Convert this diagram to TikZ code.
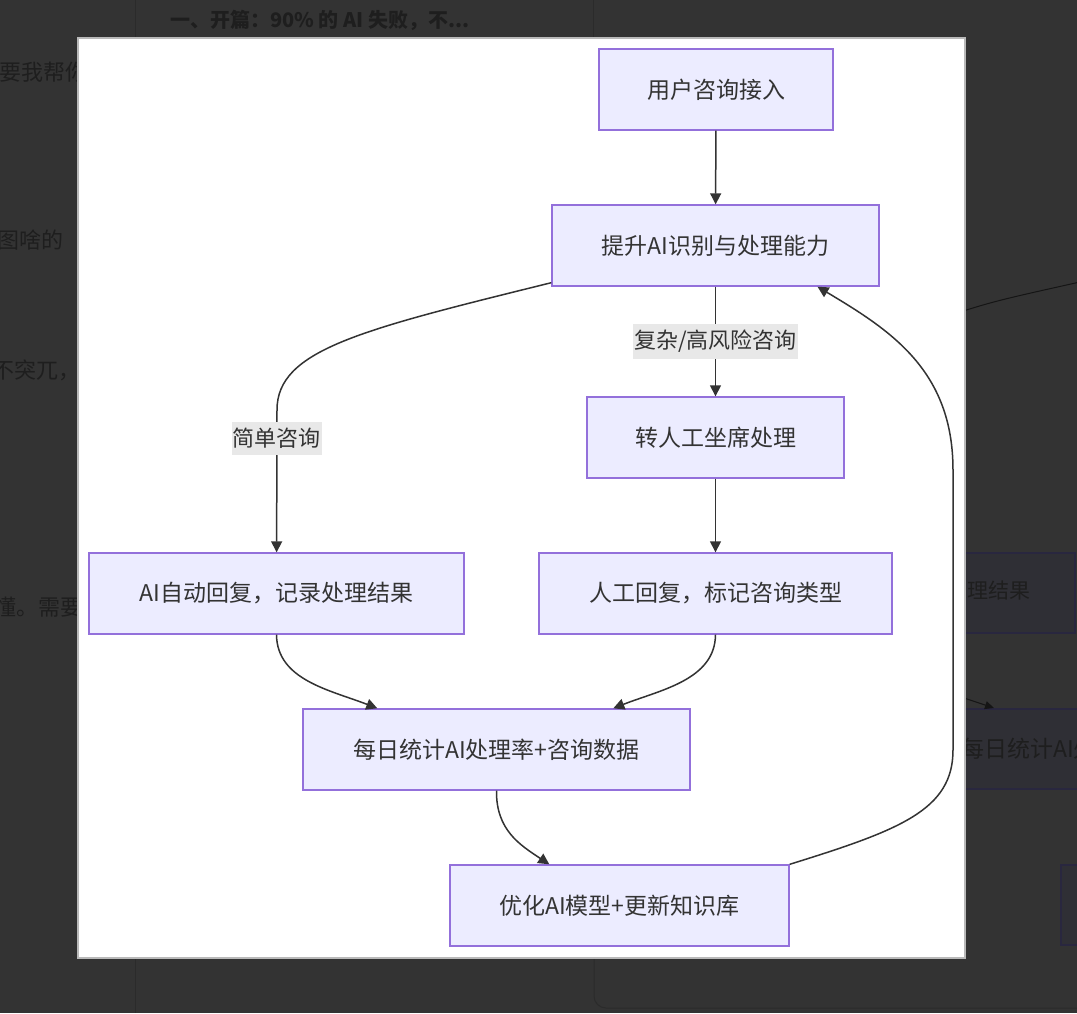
\documentclass[tikz,border=0pt]{standalone}
\usepackage{fontspec}
\setmainfont{Noto Sans CJK SC}
\usetikzlibrary{arrows.meta,calc,positioning}
\definecolor{nodefill}{HTML}{ECECFF}
\definecolor{nodeline}{HTML}{9370DB}
\definecolor{ink}{HTML}{333333}
\definecolor{lblfill}{HTML}{E8E8E8}
\definecolor{page}{HTML}{333333}
\definecolor{shade}{HTML}{1E1E1E}
\definecolor{faint}{HTML}{2B2B2B}
\definecolor{darkbox}{HTML}{2F2F35}
\definecolor{darkline}{HTML}{29273F}
\tikzset{
  flowbox/.style={draw=nodeline,fill=nodefill,line width=1.4pt,text=ink,font=\fontsize{23}{28}\selectfont,minimum height=81pt,inner sep=0pt},
  edgelbl/.style={fill=lblfill,text=ink,font=\fontsize{22}{26}\selectfont,inner xsep=1pt,inner ysep=6pt},
  myarrow/.style={-{Triangle[length=11pt,width=11pt]},line width=1.5pt,ink},
  bgtext/.style={text=shade,font=\fontsize{22}{26}\selectfont,inner sep=0pt},
  ghostbox/.style={draw=darkline,fill=darkbox,line width=1.2pt},
}

\begin{document}
\begin{tikzpicture}[x=1pt,y=-1pt]
  \clip (0,0) rectangle (1077,1013);
  \fill[page] (0,0) rectangle (1077,1013);
  \draw[faint,line width=1pt] (135.5,0) -- (135.5,1013);
  \draw[faint,line width=1pt] (593.5,0) -- (593.5,40);
  \draw[faint,line width=1pt,rounded corners=12pt] (594,950) -- (594,1008) -- (1090,1008);
  \node[bgtext,anchor=west,font=\fontsize{20}{24}\selectfont\bfseries] (head) at (170,20) {一、开篇：90\% 的 AI 失败，不...};
  \node[bgtext,anchor=west] (side1) at (-1,72) {要我帮你};
  \node[bgtext,anchor=west] (side2) at (-3,240) {图啥的};
  \node[bgtext,anchor=west] (side3) at (-8,370) {不突兀，};
  \node[bgtext,anchor=west] (side4) at (-6,607) {懂。需要};
  \draw[ghostbox] (940,553) rectangle (1075,633);
  \draw[ghostbox] (940,709) rectangle (1095,789);
  \draw[ghostbox] (1061,865) rectangle (1095,945);
  \node[bgtext,anchor=east,font=\fontsize{21}{25}\selectfont] (ghost1) at (1031,591) {记录处理结果};
  \node[bgtext,anchor=west,font=\fontsize{23}{27}\selectfont] (ghost2) at (961,749) {每日统计AI处理率};
  \draw[shade!70!black,line width=1pt] (930,322) .. controls (990,302) .. (1080,282);
  \coordinate (gfrom) at (940,690);
  \coordinate (gto) at (994,708);
  \draw[shade!70!black,line width=1pt,-{Triangle[length=9pt,width=8pt]}] (gfrom) -- (gto);
  \draw[gray!55,fill=white,line width=1.2pt] (78,38) rectangle (965,958);
  \node[flowbox,minimum width=234pt] (1) at (716,89.5) {用户咨询接入};
  \node[flowbox,minimum width=327pt] (2) at (715.5,245.5) {提升AI识别与处理能力};
  \node[flowbox,minimum width=257pt] (3) at (715.5,437.5) {转人工坐席处理};
  \node[flowbox,minimum width=375pt] (4) at (276.5,593.5) {AI自动回复，记录处理结果};
  \node[flowbox,minimum width=353pt] (5) at (715.5,593.5) {人工回复，标记咨询类型};
  \node[flowbox,minimum width=387pt] (6) at (496.5,749.5) {每日统计AI处理率+咨询数据};
  \node[flowbox,minimum width=339pt] (7) at (619.5,905.5) {优化AI模型+更新知识库};
  \draw[myarrow] (1) -- (2);
  \draw[myarrow] (2) -- node[edgelbl] (hard) {复杂/高风险咨询} (3);
  \draw[myarrow] ($(2.south west)+(0,-4)$) .. controls (360,330) and (277,350) .. (277,410)
    -- node[edgelbl,pos=0.2] (easy) {简单咨询} (4);
  \draw[myarrow] (3) -- (5);
  \draw[myarrow] (4.south) .. controls (277,680) and (330,690) .. ($(6.north west)+(75,0)$);
  \draw[myarrow] (5.south) .. controls (715,680) and (660,690) .. ($(6.north west)+(311,0)$);
  \draw[myarrow] (6.south) .. controls (496,830) and (520,845) .. ($(7.north west)+(100,0)$);
  \draw[myarrow] (7.north east) .. controls (900,830) and (953,810) .. (953,750)
    -- (953,470) .. controls (953,370) and (890,330) .. ($(2.south)+(102,0)$);
\end{tikzpicture}
\end{document}
